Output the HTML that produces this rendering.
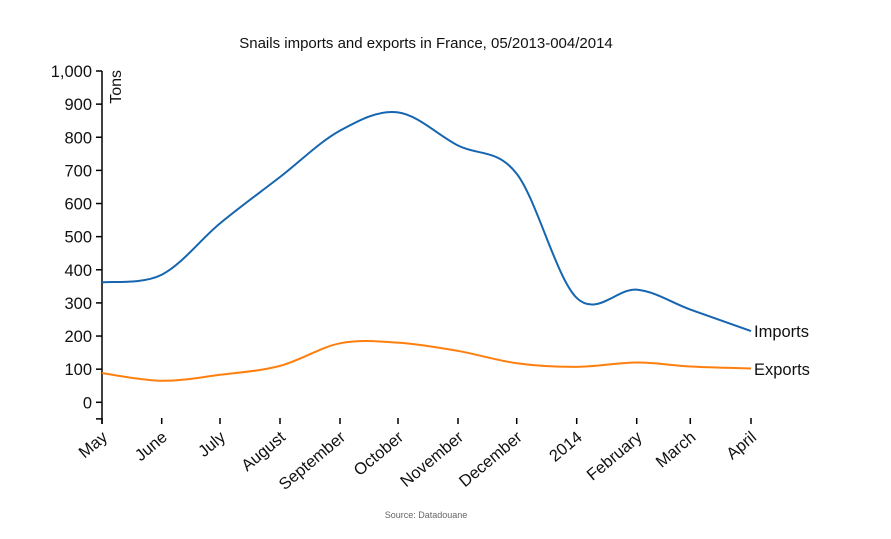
<!DOCTYPE html>
<html><head><meta charset="utf-8"><style>
body{margin:0;background:#fff}
svg{font-family:"Liberation Sans",sans-serif}
</style></head><body>
<svg id="s" width="891" height="534" xmlns="http://www.w3.org/2000/svg">
<text x="426" y="48" font-size="15" text-anchor="middle" fill="#111">Snails imports and exports in France, 05/2013-004/2014</text>
<text x="426" y="518" font-size="9" text-anchor="middle" fill="#666">Source: Datadouane</text>
<g id="ax" stroke="#000" stroke-width="1.5" fill="none"></g>
<g id="lab" font-size="16.5" fill="#111"></g>
<path id="imp" fill="none" stroke="#1565b0" stroke-width="2"/>
<path id="exp" fill="none" stroke="#ff7f0e" stroke-width="2"/>
<text x="754" y="337" font-size="16.5" fill="#111">Imports</text>
<text x="754" y="375" font-size="16.5" fill="#111">Exports</text>
<text transform="translate(121,70) rotate(-90)" font-size="16" text-anchor="end" fill="#111">Tons</text>
</svg>
<script>
var X=[102,161.7,220,280,340,398,458,516.7,576.7,636.7,690.3,751];
var names=["May","June","July","August","September","October","November","December","2014","February","March","April"];
function Y(v){return 402.3-v*0.3313;}
var imp=[362,385,540,680,820,875,775,690,315,340,280,215];
var exp=[88,65,83,110,178,180,155,118,107,120,108,102];
function path(d){var p=d.map(function(v,i){return [X[i],Y(v)]});var s="M"+p[0];
for(var i=0;i<p.length-1;i++){var p0=p[i-1]||p[i],p1=p[i],p2=p[i+1],p3=p[i+2]||p2;
var c1=[p1[0]+(p2[0]-p0[0])/6,p1[1]+(p2[1]-p0[1])/6],c2=[p2[0]-(p3[0]-p1[0])/6,p2[1]-(p3[1]-p1[1])/6];
s+="C"+c1+" "+c2+" "+p2;}return s;}
document.getElementById("imp").setAttribute("d",path(imp));
document.getElementById("exp").setAttribute("d",path(exp));
var ax=document.getElementById("ax"),lab=document.getElementById("lab"),h="",l="";
h+='<path d="M102,71V424"/>';
for(var v=-50;v<=1000;v+=100){var y=Y(v);h+='<path d="M96,'+y+'H102"/>';}
for(var v=0;v<=1000;v+=100){var y=Y(v);h+='<path d="M96,'+y+'H102"/>';
l+='<text x="92" y="'+(y+6)+'" text-anchor="end">'+(v==1000?"1,000":v)+'</text>';}
h='<path d="M102,71V424"/>';
for(var v=0;v<=1000;v+=100){h+='<path d="M96,'+Y(v)+'H102"/>';}
h+='<path d="M96,'+Y(-50)+'H102"/>';
for(var i=0;i<12;i++){h+='<path d="M'+X[i]+',418V424"/>';
l+='<text transform="translate('+(X[i]-1)+',430) rotate(-40)" text-anchor="end" dy="0.7em">'+names[i]+'</text>';}
ax.innerHTML=h;lab.innerHTML=l;
</script>
</body></html>
